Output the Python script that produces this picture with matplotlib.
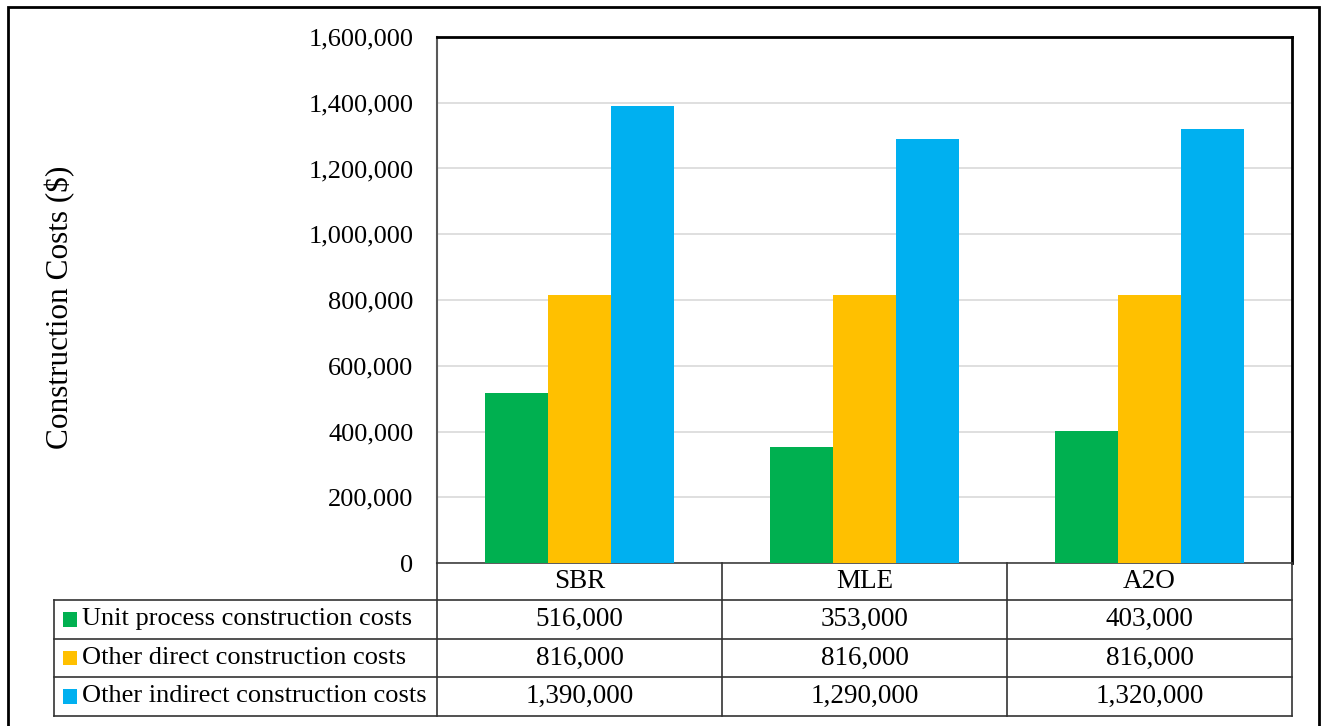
import numpy as np
import matplotlib.pyplot as plt
from matplotlib.lines import Line2D
from matplotlib.patches import Rectangle

plt.rcParams["font.family"] = ["Liberation Serif", "DejaVu Serif"]

processes = ["SBR", "MLE", "A2O"]
series_names = ["Unit process construction costs",
                "Other direct construction costs",
                "Other indirect construction costs"]
unit_process = [516000, 353000, 403000]
other_direct = [816000, 816000, 816000]
other_indirect = [1390000, 1290000, 1320000]
colors = ["#00b050", "#ffc000", "#00b0f0"]

W, H = 1325, 726
fig = plt.figure(figsize = (W / 100, H / 100), dpi = 100)

def fx(px):
    return px / W

def fy(py):
    return 1 - py / H

# plot area in pixel coords of the reference
left, right, top, zero = 437, 1292, 37, 563
ax = fig.add_axes([fx(left), fy(zero), fx(right - left), fy(top) - fy(zero)])

x = np.arange(len(processes))
bw = 0.222
all_series = [unit_process, other_direct, other_indirect]
for i, vals in enumerate(all_series):
    ax.bar(x + (i - 1) * bw, vals, width = bw, color = colors[i], zorder = 3)

ax.set_xlim(-0.5, len(processes) - 0.5)
ax.set_ylim(0, 1600000)
ax.set_yticks(np.arange(0, 1600001, 200000))
ax.set_yticklabels([f"{int(v):,}" for v in ax.get_yticks()], fontsize = 19)
ax.set_xticks([])
ax.tick_params(axis = "y", length = 0, pad = 17)
ax.grid(axis = "y", color = "#d9d9d9", linewidth = 1.2, zorder = 0)
for s in ["top", "right"]:
    ax.spines[s].set_color("black")
    ax.spines[s].set_linewidth(2)
ax.spines["left"].set_color("#595959")
ax.spines["left"].set_linewidth(1.5)
ax.spines["bottom"].set_color("#404040")
ax.spines["bottom"].set_linewidth(1.2)

fig.text(fx(60), fy(307), "Construction Costs ($)", rotation = 90,
    ha = "center", va = "center", fontsize = 22.5)

# data table below the plot
col_edges = [437, 722, 1007, 1292]
row_edges = [563, 600, 639, 677, 716]
tab_left = 54
lc = "#333333"
fs = 19.5

def hline(y, x0, x1):
    fig.add_artist(Line2D([fx(x0), fx(x1)], [fy(y), fy(y)], color = lc, linewidth = 1.2))

def vline(xp, y0, y1):
    fig.add_artist(Line2D([fx(xp), fx(xp)], [fy(y0), fy(y1)], color = lc, linewidth = 1.2))

for y in row_edges[1:]:
    hline(y, tab_left, right)
for xp in col_edges:
    vline(xp, row_edges[0], row_edges[-1])
vline(tab_left, row_edges[1], row_edges[-1])

for j, name in enumerate(processes):
    cx = (col_edges[j] + col_edges[j + 1]) / 2
    cy = (row_edges[0] + row_edges[1]) / 2
    fig.text(fx(cx), fy(cy), name, ha = "center", va = "center", fontsize = fs)

for i, vals in enumerate(all_series):
    cy = (row_edges[i + 1] + row_edges[i + 2]) / 2
    fig.add_artist(Rectangle((fx(63), fy(cy + 7)), fx(14), fy(cy - 7) - fy(cy + 7),
        transform = fig.transFigure, facecolor = colors[i], edgecolor = "none"))
    fig.text(fx(82), fy(cy), series_names[i], ha = "left", va = "center", fontsize = 19)
    for j, v in enumerate(vals):
        cx = (col_edges[j] + col_edges[j + 1]) / 2
        fig.text(fx(cx), fy(cy), f"{v:,}", ha = "center", va = "center", fontsize = fs)

# outer chart border
fig.add_artist(Rectangle((fx(8), fy(760)), fx(1319 - 8), fy(7) - fy(760),
    transform = fig.transFigure, facecolor = "none", edgecolor = "black", linewidth = 2))

fig.savefig("out.png", dpi = 100)
